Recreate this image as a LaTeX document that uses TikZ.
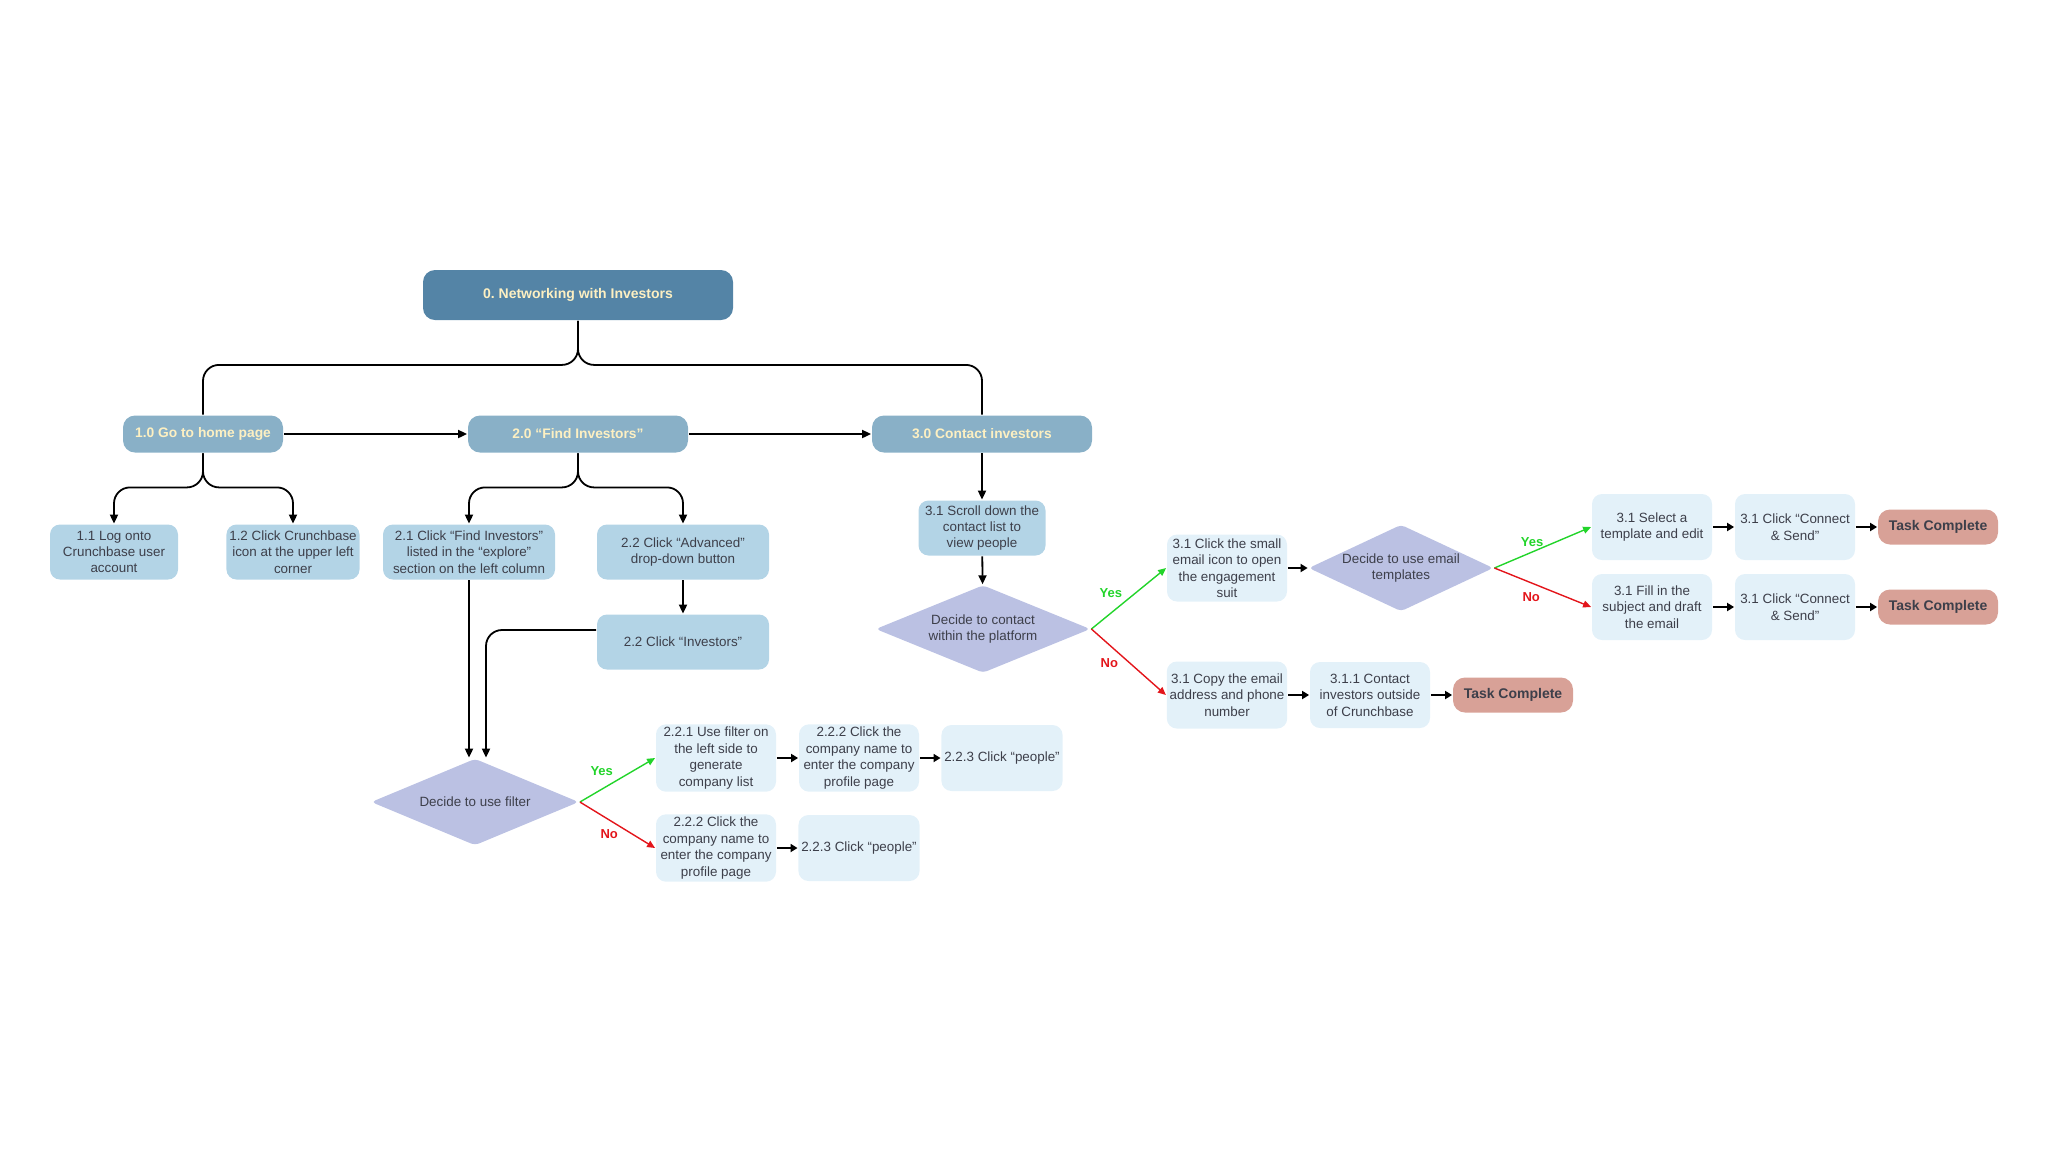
\documentclass[tikz,border=0pt]{standalone}
\usepackage{fontspec}
\setmainfont{Liberation Sans}
\usetikzlibrary{arrows.meta,shapes.geometric,positioning}

\definecolor{rootblue}{HTML}{5484A6}
\definecolor{phaseblue}{HTML}{89B0C7}
\definecolor{stepblue}{HTML}{B3D4E6}
\definecolor{paleblue}{HTML}{E3F1F9}
\definecolor{lavender}{HTML}{BBC1E3}
\definecolor{salmon}{HTML}{D8A197}
\definecolor{cream}{HTML}{FDF0C2}
\definecolor{inkgray}{HTML}{3D3F4A}
\definecolor{yesgreen}{HTML}{22D42A}
\definecolor{nored}{HTML}{E3151B}

\tikzstyle{every node}+=[inner sep=0.5mm,align=center,text=inkgray,font=\fontsize{6.7}{8.2}\selectfont,node distance=71.5pt]
\tikzstyle{every path}+=[line width=0.9pt]
\tikzstyle{rootbox}=[fill=rootblue,rounded corners=6pt,minimum width=155pt,minimum height=25pt,text=cream,font=\fontsize{7}{8.4}\selectfont\bfseries]
\tikzstyle{phase}=[fill=phaseblue,rounded corners=6pt,minimum height=18.5pt,text=cream,font=\fontsize{6.9}{8.4}\selectfont\bfseries]
\tikzstyle{stepbox}=[fill=stepblue,rounded corners=5pt,minimum width=64pt,minimum height=27.5pt]
\tikzstyle{subbox}=[fill=paleblue,rounded corners=5pt,minimum width=60pt,minimum height=33pt]
\tikzstyle{choice}=[diamond,fill=lavender,inner sep=0pt,rounded corners=2pt]
\tikzstyle{donebox}=[fill=salmon,rounded corners=6pt,minimum width=60pt,minimum height=17.5pt,font=\fontsize{7}{8.4}\selectfont\bfseries]
\tikzstyle{flow}=[-{Triangle[length=4.5pt,width=4pt]}]
\tikzstyle{hop}=[-{Triangle[length=3.5pt,width=4pt]},line width=1.4pt]
\tikzstyle{yesline}=[-{Triangle[length=4pt,width=3.5pt]},yesgreen,line width=0.7pt]
\tikzstyle{noline}=[-{Triangle[length=4pt,width=3.5pt]},nored,line width=0.7pt]
\tikzstyle{yeslbl}=[text=yesgreen,font=\fontsize{6.5}{8}\selectfont\bfseries]
\tikzstyle{nolbl}=[text=nored,font=\fontsize{6.5}{8}\selectfont\bfseries]

\begin{document}
\begin{tikzpicture}[x=0.5pt,y=-0.5pt]
\useasboundingbox (0,0) rectangle (2048,1152);

% top levels
\node[rootbox] (root) at (578,295) {0.\ Networking with Investors};
\node[phase,minimum width=80pt] (f10) at (203,434) {1.0 Go to home page};
\node[phase,minimum width=110pt] (f20) at (578,434) {2.0 “Find Investors”};
\node[phase,minimum width=110pt] (f30) at (982,434) {3.0 Contact investors};

% branch 1 and 2
\node[stepbox] (s11) at (114,552) {1.1 Log onto\\Crunchbase user\\account};
\node[stepbox] (s12) at (293,552) {1.2 Click Crunchbase\\icon at the upper left\\corner};
\node[stepbox,minimum width=86pt] (s21) at (469,552) {2.1 Click “Find Investors”\\listed in the “explore”\\section on the left column};
\node[stepbox,minimum width=86pt] (s22) at (683,552) {2.2 Click “Advanced”\\drop-down button};
\node[stepbox,minimum width=86pt] (s22b) at (683,642) {2.2 Click “Investors”};

\node[choice,aspect=2.39,minimum width=104pt,minimum height=43.5pt] (filt) at (475,802) {Decide to use filter};
\node[subbox] (u221) at (716,758) {2.2.1 Use filter on\\the left side to\\generate\\company list};
\node[subbox,right of=u221] (u222) {2.2.2 Click the\\company name to\\enter the company\\profile page};
\node[subbox,right of=u222] (u223) {2.2.3 Click “people”};
\node[subbox] (n222) at (716,848) {2.2.2 Click the\\company name to\\enter the company\\profile page};
\node[subbox,right of=n222] (n223) {2.2.3 Click “people”};

% branch 3
\node[stepbox,minimum width=63.5pt] (s31) at (982,528) {3.1 Scroll down the\\contact list to\\view people};
\node[choice,aspect=2.44,minimum width=107.5pt,minimum height=44pt] (cont) at (983,629) {Decide to contact\\within the platform};
\node[subbox,minimum height=33.5pt] (e31) at (1227,568) {3.1 Click the small\\email icon to open\\the engagement\\suit};
\node[choice,aspect=2.13,minimum width=92.5pt,minimum height=43.5pt] (tmpl) at (1401,568) {Decide to use email\\templates};
\node[subbox] (sel) at (1652,527) {3.1 Select a\\template and edit};
\node[subbox,right of=sel] (snd1) {3.1 Click “Connect\\\& Send”};
\node[donebox,right of=snd1] (ok1) {Task Complete};
\node[subbox] (draft) at (1652,607) {3.1 Fill in the\\subject and draft\\the email};
\node[subbox,right of=draft] (snd2) {3.1 Click “Connect\\\& Send”};
\node[donebox,right of=snd2] (ok2) {Task Complete};
\node[subbox,minimum height=33.5pt] (copy) at (1227,695) {3.1 Copy the email\\address and phone\\number};
\node[subbox,right of=copy] (outs) {3.1.1 Contact\\investors outside\\of Crunchbase};
\node[donebox,right of=outs] (ok3) {Task Complete};

% connectors
\draw[rounded corners=8pt] (root.south) -- ++(0,44) -| (f10.north);
\draw[rounded corners=8pt] (root.south) -- ++(0,44) -| (f30.north);
\draw[flow] (f10) -- (f20);
\draw[flow] (f20) -- (f30);
\draw[flow,rounded corners=8pt] (f10.south) -- ++(0,34) -| (s11.north);
\draw[flow,rounded corners=8pt] (f10.south) -- ++(0,34) -| (s12.north);
\draw[flow,rounded corners=8pt] (f20.south) -- ++(0,34) -| (s21.north);
\draw[flow,rounded corners=8pt] (f20.south) -- ++(0,34) -| (s22.north);
\draw[flow] (s22) -- (s22b);
\draw[flow] (s21.south) -- (s21.south |- filt.north);
\draw[flow,rounded corners=8pt] ([yshift=6pt]s22b.west) -| ([xshift=5.5pt]filt.north);
\draw[yesline] (filt.east) -- node[pos=0.29,above=5pt,yeslbl] {Yes} (u221.west);
\draw[noline] (filt.east) -- node[pos=0.39,below=3pt,nolbl] {No} (n222.west);
\draw[hop] (u221) -- (u222);
\draw[hop] (u222) -- (u223);
\draw[hop] (n222) -- (n223);

\draw[flow] (f30) -- (s31);
\draw[flow] (s31) -- (cont);
\draw[yesline] (cont.east) -- node[pos=0.26,above=6pt,yeslbl] {Yes} (e31.west);
\draw[noline] (cont.east) -- node[pos=0.24,below=5pt,nolbl] {No} (copy.west);
\draw[hop] (e31) -- (tmpl);
\draw[yesline] (tmpl.east) -- node[pos=0.39,above=1pt,yeslbl] {Yes} (sel.west);
\draw[noline] (tmpl.east) -- node[pos=0.38,below=3pt,nolbl] {No} (draft.west);
\draw[hop] (sel) -- (snd1);
\draw[hop] (snd1) -- (ok1);
\draw[hop] (draft) -- (snd2);
\draw[hop] (snd2) -- (ok2);
\draw[hop] (copy) -- (outs);
\draw[hop] (outs) -- (ok3);
\end{tikzpicture}
\end{document}
